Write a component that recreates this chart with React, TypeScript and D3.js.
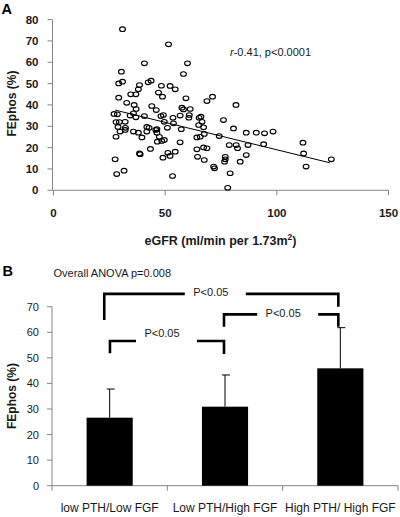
import React from "react";
import * as d3 from "d3";

// ---------- Panel A data ----------
const egfr = [
  30.9, 51.5, 40.7, 60.0, 30.4, 58.2, 29.2, 30.9, 42.4, 43.7,
  38.5, 38.0, 48.3, 52.2, 54.5, 47.0, 48.8, 29.2, 34.6, 36.9,
  59.3, 68.7, 71.2, 81.7, 32.8, 36.1, 37.0, 44.0, 46.0, 57.5,
  58.2, 61.2, 35.8, 34.3, 36.9, 40.7, 48.1, 49.2, 53.5, 56.7,
  60.8, 60.6, 65.2, 66.0, 27.1, 28.6, 66.5, 76.1, 28.0, 29.5,
  32.1, 49.6, 53.7, 65.0, 28.9, 32.2, 41.8, 42.8, 46.3, 51.0,
  57.2, 67.2, 80.6, 29.8, 32.1, 35.8, 38.0, 41.8, 45.8, 46.3,
  67.5, 86.3, 90.8, 94.5, 98.3, 28.0, 39.6, 47.4, 64.2, 65.7,
  74.2, 46.5, 48.5, 49.6, 56.7, 94.1, 111.7, 78.7, 81.8, 87.1,
  67.2, 68.7, 82.4, 43.4, 64.2, 54.5, 51.2, 38.5, 38.8, 112.0,
  86.3, 52.2, 64.5, 76.9, 49.0, 27.6, 76.9, 124.4, 67.5, 76.6,
  83.6, 71.7, 72.1, 113.1, 31.6, 28.3, 79.1, 53.3, 78.0,
];
const fephos = [
  75.5, 68.4, 59.5, 59.5, 55.6, 54.5, 50.1, 50.9, 50.6, 51.4,
  49.3, 47.3, 49.0, 48.9, 47.3, 45.8, 43.9, 43.4, 45.0, 45.0,
  43.1, 41.8, 43.9, 40.0, 41.0, 40.0, 38.1, 39.5, 37.6, 38.7,
  37.9, 38.1, 36.1, 35.0, 34.2, 34.8, 34.8, 35.3, 34.0, 35.0,
  35.3, 34.0, 34.0, 34.5, 35.8, 35.6, 32.1, 32.9, 32.0, 32.0,
  32.1, 32.1, 31.4, 30.6, 29.7, 29.3, 29.7, 29.3, 28.7, 29.3,
  28.6, 29.5, 29.0, 27.5, 28.3, 27.5, 27.0, 27.5, 28.3, 27.0,
  26.4, 27.0, 27.0, 26.7, 27.5, 25.1, 24.8, 25.1, 24.8, 25.1,
  25.4, 22.8, 23.1, 23.6, 22.5, 21.6, 22.3, 21.2, 21.2, 21.2,
  20.1, 19.7, 19.7, 19.4, 19.2, 18.1, 17.6, 17.3, 16.9, 17.3,
  16.5, 16.1, 15.7, 15.7, 15.3, 14.5, 14.5, 14.5, 14.2, 13.4,
  13.4, 11.1, 10.3, 11.1, 9.2, 7.6, 8.0, 6.7, 1.2,
];
const fitX = [27.6, 123.7];
const fitY = [37.6, 12.9];
const xTicksA = [0, 50, 100, 150];
const yTicksA = [0, 10, 20, 30, 40, 50, 60, 70, 80];
const statA = "r-0.41, p<0.0001";
const xTitleA = "eGFR (ml/min per 1.73m";
const yTitle = "FEphos (%)";

// ---------- Panel B data ----------
const groups = ["low PTH/Low FGF", "Low PTH/High FGF", "High PTH/ High FGF"];
const means = [26.6, 30.9, 45.9];
const upper = [37.8, 43.3, 61.8];
const yTicksB = [0, 10, 20, 30, 40, 50, 60, 70];
const anovaText = "Overall ANOVA p=0.008";
const compFrom = [0, 0, 1];
const compTo = [2, 1, 2];
const compY = [75, 56.6, 67];
const compLegFrom = [64.8, 51.8, 62.2];
const compLegTo = [70, 51.5, 62.2];
const compLabel = ["P<0.05", "P<0.05", "P<0.05"];

const FONT = "'Liberation Sans', Arial, sans-serif";
const AX = "#868686";
const TXT = "#1a1a1a";

export default function App() {
  // Panel A scales
  const xA = d3.scaleLinear().domain([0, 150]).range([53.5, 388.5]);
  const yA = d3.scaleLinear().domain([0, 80]).range([190.3, 19.6]);
  const fitLine = d3.line<number>().x((_, i) => xA(fitX[i])).y((d) => yA(d));

  // Panel B scales
  const xB = d3.scaleBand<string>().domain(groups).range([52, 398]).padding(0);
  const yB = d3.scaleLinear().domain([0, 70]).range([485.7, 306.7]);
  const bw = xB.bandwidth() * 0.4;
  const cx = (i: number) => (xB(groups[i]) as number) + xB.bandwidth() / 2;

  // bracket layout tweaks (pixel offsets)
  const legOffFrom = [-5.4, 0.3, -1];
  const legOffTo = [-2, -1, -2];
  const textDx = [-10.5, -5, 2];
  const textDy = [-1.5, -7.5, -1];

  return (
    <svg
      width={400}
      height={517}
      style={{ position: "absolute", left: 0, top: 0, background: "#fff" }}
      fontFamily={FONT}
    >
      <rect x={0} y={0} width={400} height={517} fill="#fff" />
      {/* ===== Panel A ===== */}
      <text x={1.5} y={14} fontSize={14.5} fontWeight="bold" fill="#000">A</text>
      {/* y axis */}
      <line x1={52.5} x2={52.5} y1={yA(80)} y2={yA(0)} stroke={AX} strokeWidth={1} />
      {yTicksA.map((t) => (
        <g key={"ya" + t}>
          <line x1={47.5} x2={52.5} y1={yA(t)} y2={yA(t)} stroke={AX} />
          <text
            x={38.5}
            y={yA(t)}
            dy="0.36em"
            textAnchor="end"
            fontSize={11.5}
            fontWeight="bold"
            fill={TXT}
          >
            {t}
          </text>
        </g>
      ))}
      {/* x axis */}
      <line x1={52.5} x2={xA(150)} y1={yA(0)} y2={yA(0)} stroke={AX} />
      {xTicksA.map((t) => (
        <g key={"xa" + t}>
          <line x1={xA(t)} x2={xA(t)} y1={yA(0)} y2={yA(0) + 5} stroke={AX} />
          <text
            x={xA(t)}
            y={yA(0) + 23}
            dy="0.36em"
            textAnchor="middle"
            fontSize={11.5}
            fontWeight="bold"
            fill={TXT}
          >
            {t}
          </text>
        </g>
      ))}
      <text x={220.5} y={240} dy="0.36em" textAnchor="middle" fontSize={12.5} fontWeight="bold" fill={TXT}>
        {xTitleA}
        <tspan baselineShift="super" fontSize={8.5}>2</tspan>
        <tspan>)</tspan>
      </text>
      <text
        transform={`translate(12,${103.5}) rotate(-90)`}
        dy="0.36em"
        textAnchor="middle"
        fontSize={12}
        fontWeight="bold"
        fill={TXT}
      >
        {yTitle}
      </text>
      {/* points */}
      {egfr.map((x, i) => (
        <ellipse
          key={"p" + i}
          cx={xA(x)}
          cy={yA(fephos[i])}
          rx={2.9}
          ry={2.3}
          fill="none"
          stroke="#000"
          strokeWidth={1.1}
        />
      ))}
      <path d={fitLine(fitY) || ""} stroke="#000" strokeWidth={1} fill="none" />
      <text x={230} y={51.7} dy="0.36em" fontSize={11} fill={TXT}>
        <tspan fontStyle="italic">r</tspan>
        {statA.slice(1)}
      </text>

      {/* ===== Panel B ===== */}
      <text x={2.5} y={275.5} fontSize={14.5} fontWeight="bold" fill="#000">B</text>
      <text x={53.5} y={273.3} dy="0.36em" fontSize={11} fill={TXT}>{anovaText}</text>
      {/* y axis */}
      <line x1={52} x2={52} y1={yB(70)} y2={yB(0)} stroke={AX} />
      {yTicksB.map((t) => (
        <g key={"yb" + t}>
          <line x1={47} x2={52} y1={yB(t)} y2={yB(t)} stroke={AX} />
          <text x={39} y={yB(t)} dy="0.36em" textAnchor="end" fontSize={11} fill={TXT}>
            {t}
          </text>
        </g>
      ))}
      <text
        transform={`translate(12,${396}) rotate(-90)`}
        dy="0.36em"
        textAnchor="middle"
        fontSize={12}
        fontWeight="bold"
        fill={TXT}
      >
        {yTitle}
      </text>
      {/* x axis */}
      <line x1={52} x2={398} y1={yB(0)} y2={yB(0)} stroke={AX} />
      {[...groups.map((g) => xB(g) as number), 398].map((x, i) => (
        <line key={"xbt" + i} x1={x} x2={x} y1={yB(0)} y2={yB(0) + 5} stroke={AX} />
      ))}
      {groups.map((g, i) => (
        <text key={"xbl" + i} x={cx(i)} y={508} dy="0.36em" textAnchor="middle" fontSize={12} fill={TXT}>
          {g}
        </text>
      ))}
      {/* bars */}
      {means.map((m, i) => (
        <g key={"bar" + i}>
          <line x1={cx(i)} x2={cx(i)} y1={yB(m)} y2={yB(upper[i])} stroke="#000" strokeWidth={1} />
          <line x1={cx(i) - 3} x2={cx(i) + 5} y1={yB(upper[i])} y2={yB(upper[i])} stroke="#000" strokeWidth={1} />
          <rect x={cx(i) - bw / 2} y={yB(m)} width={bw} height={yB(0) - yB(m)} fill="#000" />
        </g>
      ))}
      {/* brackets */}
      {compFrom.map((a, k) => {
        const x1 = cx(a) + legOffFrom[k];
        const x2 = cx(compTo[k]) + legOffTo[k];
        const y = yB(compY[k]);
        const tx = (x1 + x2) / 2 + textDx[k];
        const path = `M${x1},${yB(compLegFrom[k])}V${y}H${tx - 26} M${tx + 35},${y}H${x2}V${yB(compLegTo[k])}`;
        return (
          <g key={"br" + k}>
            <path d={path} stroke="#000" strokeWidth={2.6} fill="none" />
            <text x={tx} y={y + textDy[k]} dy="0.36em" textAnchor="middle" fontSize={11} fill={TXT}>
              {compLabel[k]}
            </text>
          </g>
        );
      })}
    </svg>
  );
}
